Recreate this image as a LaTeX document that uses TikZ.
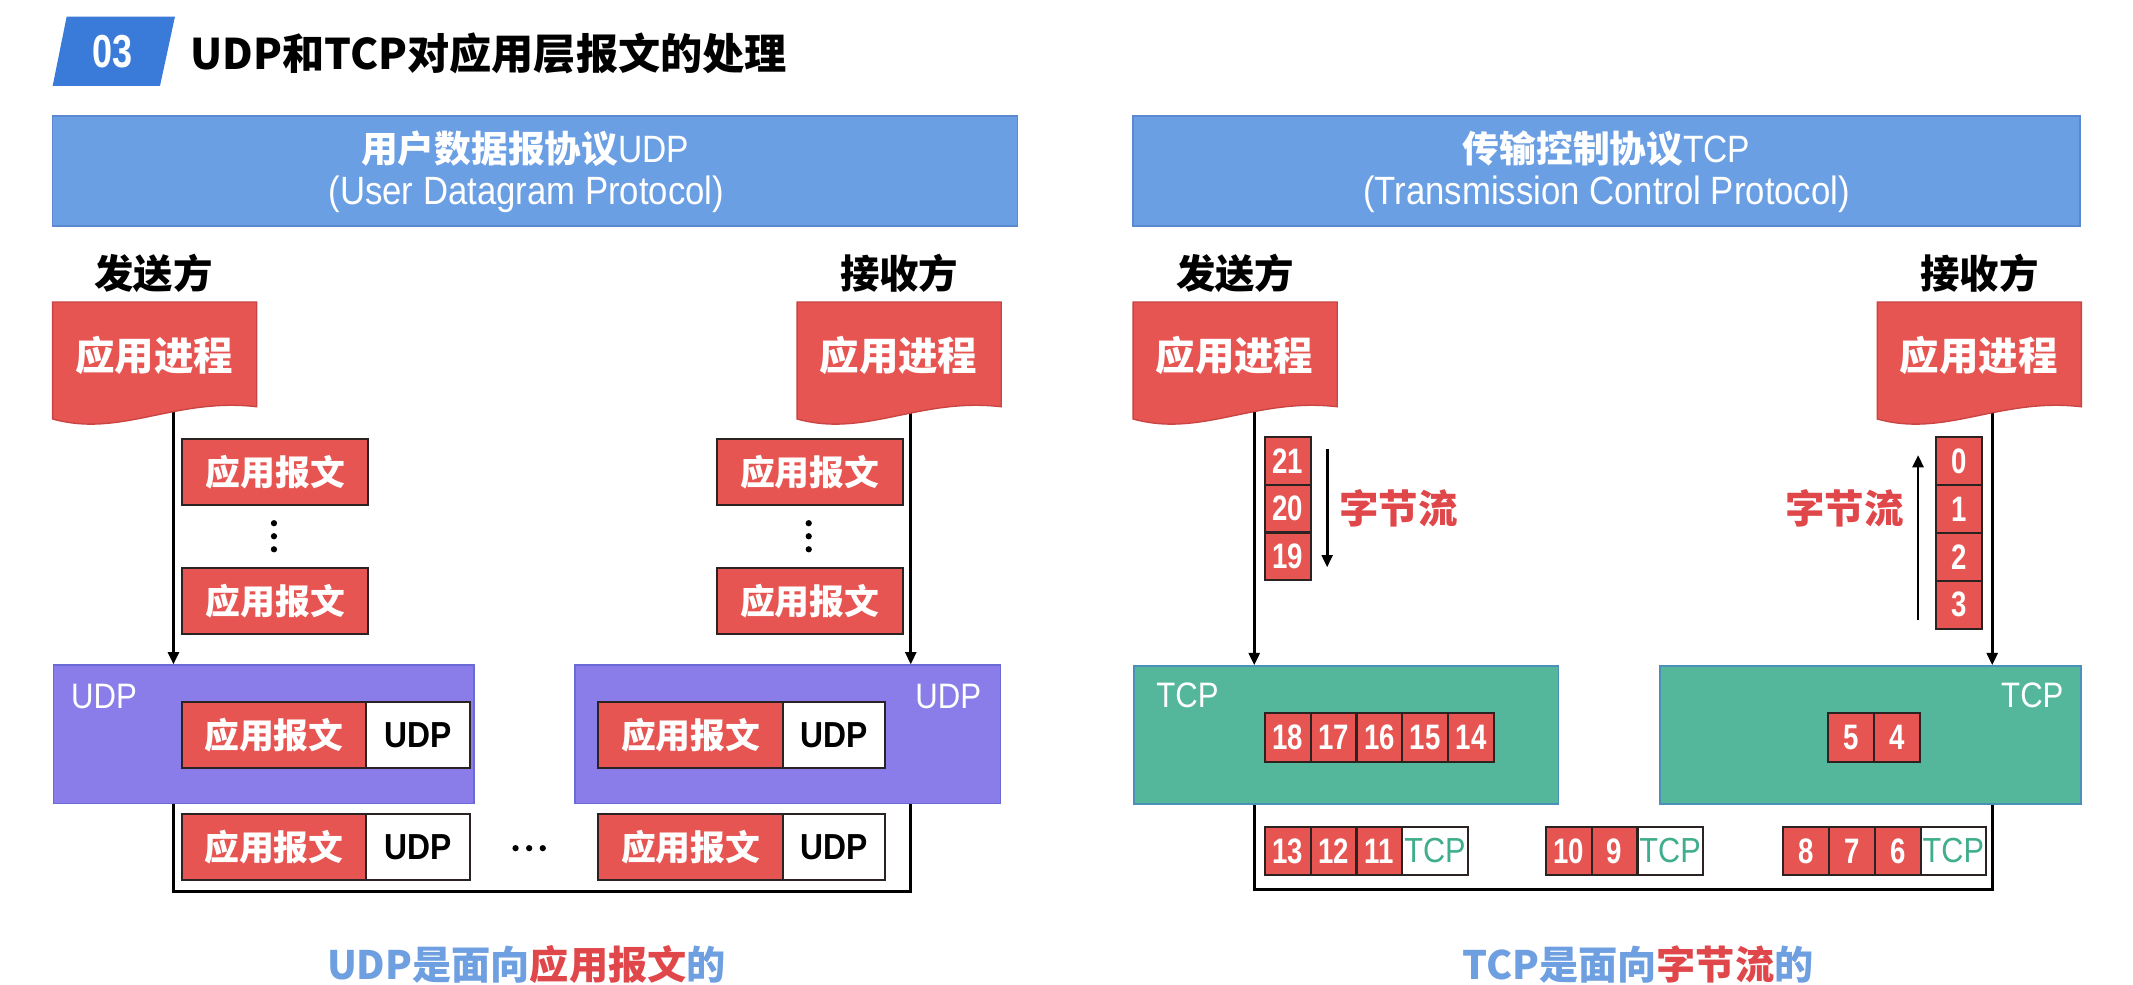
\documentclass[tikz,border=0pt]{standalone}
\usepackage{fontspec}
\setmainfont{Noto Sans CJK SC}
\newfontfamily\lat{Liberation Sans}[FakeStretch=0.88]
\newfontfamily\latn{Liberation Sans}[FakeStretch=0.78]
\usetikzlibrary{arrows.meta}
\definecolor{hdrblue}{HTML}{6B9FE4}
\definecolor{hdrbd}{HTML}{5A89CF}
\definecolor{titleblue}{HTML}{3A7BD9}
\definecolor{cred}{HTML}{E65552}
\definecolor{flagbd}{HTML}{C94543}
\definecolor{bdr}{HTML}{2B2222}
\definecolor{cpurple}{HTML}{8A7DE9}
\definecolor{purplebd}{HTML}{6A6AD6}
\definecolor{cgreen}{HTML}{54B69A}
\definecolor{greenbd}{HTML}{4A90B8}
\definecolor{tcpgreen}{HTML}{3FAE8C}
\definecolor{capblue}{HTML}{6E9FE0}
\definecolor{capred}{HTML}{E0474A}
\newcommand\flagshape[1]{%
  \fill[cred, draw=flagbd, line width=0.5pt] (#1,222) -- ({#1+150},222) -- ({#1+150},299)
    .. controls ({#1+90},292) and ({#1+50},322) .. (#1,308) -- cycle;}
\begin{document}
\begin{tikzpicture}[x=0.5pt,y=-0.5pt,
  hdr/.style={draw=hdrbd, line width=0.6pt, fill=hdrblue, minimum height=40.35pt, inner sep=0pt},
  msg/.style={draw=bdr, line width=0.8pt, fill=cred, text=white, font=\bfseries\fontsize{12.8}{12.8}\selectfont, minimum width=68.5pt, minimum height=24.3pt, inner sep=0pt, anchor=north west},
  udpw/.style={draw=bdr, line width=0.8pt, fill=white, text=black, font=\lat\bfseries\fontsize{13.3}{13.3}\selectfont, minimum width=38.5pt, minimum height=24.3pt, inner sep=0pt, anchor=north west},
  cell/.style={draw=bdr, line width=0.8pt, fill=cred, text=white, font=\latn\bfseries\fontsize{13}{13}\selectfont, minimum width=16.85pt, minimum height=17.6pt, inner sep=0pt, anchor=north west},
  tcpw/.style={draw=bdr, line width=0.8pt, fill=white, text=tcpgreen, font=\lat\fontsize{12.8}{12.8}\selectfont, minimum width=24pt, minimum height=17.75pt, inner sep=0pt, anchor=north west},
  layerU/.style={draw=purplebd, line width=0.6pt, fill=cpurple, minimum height=50.8pt, inner sep=0pt, anchor=north west},
  layerT/.style={draw=greenbd, line width=0.6pt, fill=cgreen, minimum height=50.6pt, inner sep=0pt, anchor=north west},
  lbl/.style={text=white, font=\lat\fontsize{13}{13}\selectfont, inner sep=0pt},
  side/.style={text=black, font=\bfseries\fontsize{14.5}{14.5}\selectfont, inner sep=0pt},
  proc/.style={text=white, font=\bfseries\fontsize{14.5}{14.5}\selectfont, inner sep=0pt},
  flow/.style={text=capred, font=\bfseries\fontsize{14.5}{14.5}\selectfont, inner sep=0pt},
  captext/.style={font=\bfseries\fontsize{14.4}{14.4}\selectfont, inner sep=0pt},
  conn/.style={line width=1pt, draw=black},
  arr/.style={conn, -{Triangle[length=4.5pt,width=4pt]}},
  dot/.style={fill=black, draw=none}
]
\fill[white] (0,0) rectangle (1568,724);
\useasboundingbox (0,0) rectangle (1568,724);

% ---- title ----
\fill[titleblue] (49,12.3) -- (128.6,12.3) -- (117.6,63.2) -- (38.7,63.2) -- cycle;
\node[text=white, font=\latn\bfseries\fontsize{17}{17}\selectfont, inner sep=0pt] (num) at (83,38) {03};
\node[anchor=west, font=\bfseries\fontsize{15.5}{15.5}\selectfont, inner sep=0pt] (title) at (139.7,39) {UDP和TCP对应用层报文的处理};

% ---- headers ----
\node[hdr, minimum width=354.7pt] (udph) at (393.3,125.65) {};
\node[text=white, inner sep=0pt, font=\bfseries\fontsize{13.5}{13.5}\selectfont] (udpt1) at (386,109) {用户数据报协议{\lat\mdseries\fontsize{14}{14}\selectfont UDP}};
\node[text=white, inner sep=0pt, font=\lat\fontsize{14.5}{14.5}\selectfont] (udpt2) at (387,143) {(User Datagram Protocol)};
\node[hdr, minimum width=348.1pt] (tcph) at (1180.9,125.65) {};
\node[text=white, inner sep=0pt, font=\bfseries\fontsize{13.5}{13.5}\selectfont] (tcpt1) at (1181,109) {传输控制协议{\lat\mdseries\fontsize{14}{14}\selectfont TCP}};
\node[text=white, inner sep=0pt, font=\lat\fontsize{14.5}{14.5}\selectfont] (tcpt2) at (1181,143) {(Transmission Control Protocol)};

% ---- side labels ----
\node[side] (snd1) at (113,201) {发送方};
\node[side] (rcv1) at (661,201) {接收方};
\node[side] (snd2) at (908,201) {发送方};
\node[side] (rcv2) at (1455,201) {接收方};

% ---- UDP part ----
\node[msg] (m1) at (133,322) {应用报文};
\node[msg] (m2) at (133,416.6) {应用报文};
\node[msg] (m3) at (526,322) {应用报文};
\node[msg] (m4) at (526,416.6) {应用报文};
\foreach \yy in {384.6,394.2,403.8} {
  \fill[dot] (201.4,\yy) circle (1.15pt);
  \fill[dot] (594.5,\yy) circle (1.15pt);
}
\node[layerU, minimum width=154.7pt] (udpS) at (38.6,488.4) {};
\node[layerU, minimum width=156.5pt] (udpR) at (422,488.4) {};
\node[lbl] (udpSl) at (76.5,512) {UDP};
\node[lbl] (udpRl) at (697,512) {UDP};
\node[msg, minimum width=67.5pt] (i1) at (133,515) {应用报文};
\node[udpw] (i1u) at (268,515) {UDP};
\node[msg, minimum width=68pt] (i2) at (439,515) {应用报文};
\node[udpw, minimum width=37.5pt] (i2u) at (575,515) {UDP};
\node[msg, minimum width=67.5pt] (b1) at (133,597.4) {应用报文};
\node[udpw] (b1u) at (268,597.4) {UDP};
\node[msg, minimum width=68pt] (b2) at (439,597.4) {应用报文};
\node[udpw, minimum width=37.5pt] (b2u) at (575,597.4) {UDP};
\foreach \xx in {379,389,399} { \fill[dot] (\xx,623.5) circle (1.15pt); }

\coordinate (fsU) at (127.5,300);
\coordinate (frU) at (669.5,300);
\coordinate (botU) at (127.5,655.5);
\draw[arr] (fsU) -- (fsU |- udpS.north);
\draw[arr] (frU) -- (frU |- udpR.north);
\draw[conn] (udpS.south -| fsU) -- (botU) -- (botU -| frU) -- (udpR.south -| frU);

% ---- TCP part ----
\node[cell, minimum width=17pt, minimum height=17.55pt] (c21) at (929,320.5) {21};
\node[cell, minimum width=17pt, minimum height=17.55pt] (c20) at (929,355.6) {20};
\node[cell, minimum width=17pt, minimum height=17.55pt] (c19) at (929,390.7) {19};
\coordinate (da1) at (975.6,330);
\coordinate (da2) at (975.6,417);
\draw[arr] (da1) -- (da2);
\node[flow] (flowL) at (1028,373.5) {字节流};

\node[layerT, minimum width=156pt] (tcpS) at (833,489) {};
\node[layerT, minimum width=154.7pt] (tcpR) at (1219.6,489) {};
\node[lbl] (tcpSl) at (873,511) {TCP};
\node[lbl] (tcpRl) at (1494,511) {TCP};
\node[cell, minimum height=18pt] (c18) at (929,523.5) {18};
\node[cell, minimum height=18pt] (c17) at (962.7,523.5) {17};
\node[cell, minimum height=18pt] (c16) at (996.4,523.5) {16};
\node[cell, minimum height=18pt] (c15) at (1030.1,523.5) {15};
\node[cell, minimum height=18pt] (c14) at (1063.8,523.5) {14};
\node[cell, minimum height=18pt] (c5) at (1343,523.5) {5};
\node[cell, minimum height=18pt] (c4) at (1376.7,523.5) {4};

\node[cell, minimum width=16.7pt] (c0) at (1422.6,320.5) {0};
\node[cell, minimum width=16.7pt] (c1) at (1422.6,355.7) {1};
\node[cell, minimum width=16.7pt] (c2) at (1422.6,390.9) {2};
\node[cell, minimum width=16.7pt] (c3) at (1422.6,426.1) {3};
\coordinate (ua1) at (1410,456);
\coordinate (ua2) at (1410,334.5);
\draw[arr] (ua1) -- (ua2);
\node[flow] (flowR) at (1356,373.5) {字节流};

\node[cell, minimum height=17.75pt] (c13) at (929,607) {13};
\node[cell, minimum height=17.75pt] (c12) at (962.7,607) {12};
\node[cell, minimum height=17.75pt] (c11) at (996.4,607) {11};
\node[tcpw] (s1t) at (1030.1,607) {TCP};
\node[cell, minimum height=17.75pt] (c10) at (1135.5,607) {10};
\node[cell, minimum height=17.75pt] (c9) at (1169.2,607) {9};
\node[tcpw] (s2t) at (1202.9,607) {TCP};
\node[cell, minimum height=17.75pt] (c8) at (1310,607) {8};
\node[cell, minimum height=17.75pt] (c7) at (1343.7,607) {7};
\node[cell, minimum height=17.75pt] (c6) at (1377.4,607) {6};
\node[tcpw] (s3t) at (1411.1,607) {TCP};

\coordinate (fsT) at (922,300);
\coordinate (frT) at (1464.5,300);
\coordinate (botT) at (922,654);
\draw[arr] (fsT) -- (fsT |- tcpS.north);
\draw[arr] (frT) -- (frT |- tcpR.north);
\draw[conn] (tcpS.south -| fsT) -- (botT) -- (botT -| frT) -- (tcpR.south -| frT);

% ---- flags (application processes) ----
\flagshape{38.7}
\flagshape{586}
\flagshape{833}
\flagshape{1380}
\node[proc] (pS1) at (113.5,261) {应用进程};
\node[proc] (pR1) at (660.5,261) {应用进程};
\node[proc] (pS2) at (907.5,261) {应用进程};
\node[proc] (pR2) at (1454.5,261) {应用进程};

% ---- captions ----
\node[captext] (capU) at (387,709) {{\color{capblue}UDP是面向}{\color{capred}应用报文}{\color{capblue}的}};
\node[captext] (capT) at (1204,709) {{\color{capblue}TCP是面向}{\color{capred}字节流}{\color{capblue}的}};
\end{tikzpicture}
\end{document}
